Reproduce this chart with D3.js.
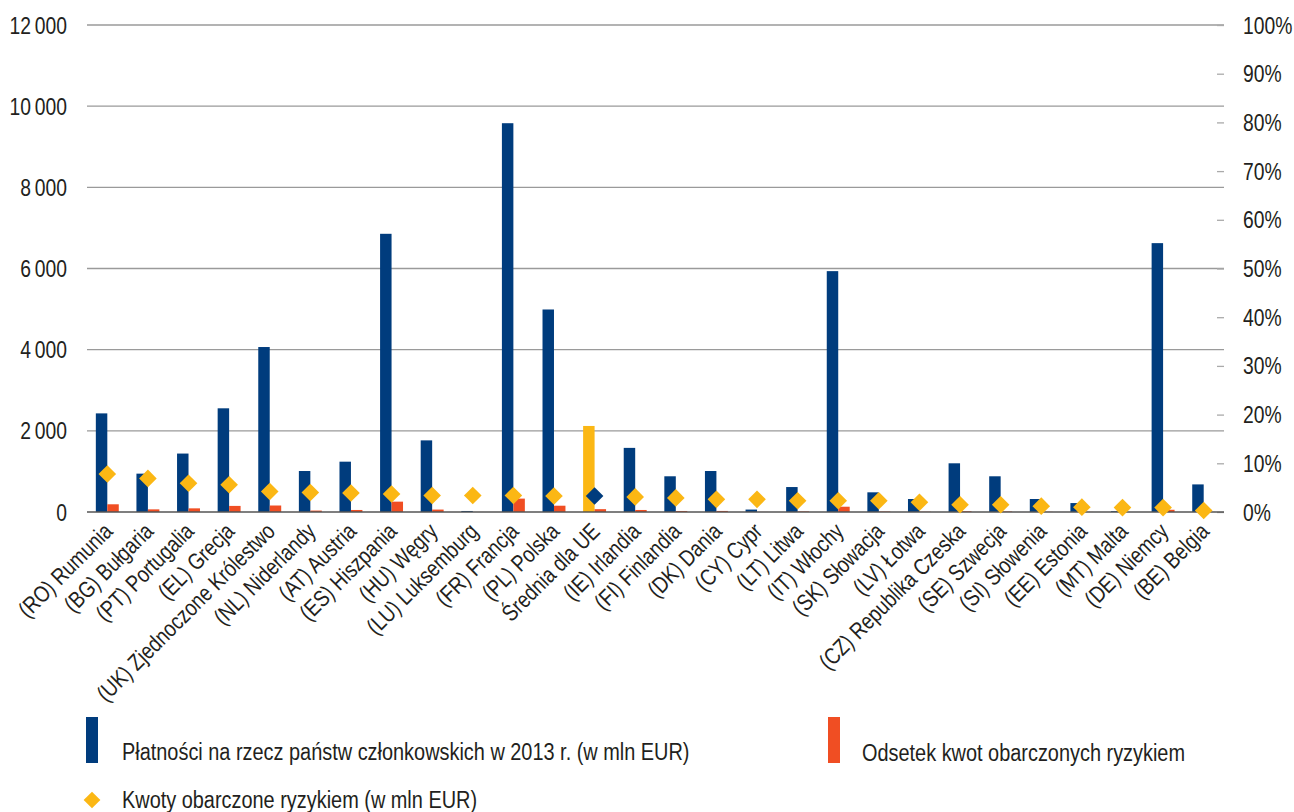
<!DOCTYPE html>
<html>
<head>
<meta charset="utf-8">
<script src="https://cdn.jsdelivr.net/npm/d3@7"></script>
<style>
  body { margin: 0; background: #fff; }
  text { font-family: "Liberation Sans", Arial, sans-serif; fill: #231f20; }
</style>
</head>
<body>
<div id="chart"></div>
<script>
// categories (member states + EU average)
const categories = [
  '(RO) Rumunia', '(BG) Bułgaria', '(PT) Portugalia', '(EL) Grecja',
  '(UK) Zjednoczone Królestwo', '(NL) Niderlandy', '(AT) Austria', '(ES) Hiszpania',
  '(HU) Węgry', '(LU) Luksemburg', '(FR) Francja', '(PL) Polska', 'Średnia dla UE',
  '(IE) Irlandia', '(FI) Finlandia', '(DK) Dania', '(CY) Cypr', '(LT) Litwa',
  '(IT) Włochy', '(SK) Słowacja', '(LV) Łotwa', '(CZ) Republika Czeska',
  '(SE) Szwecja', '(SI) Słowenia', '(EE) Estonia', '(MT) Malta', '(DE) Niemcy', '(BE) Belgia'
];
const avgCategory = 'Średnia dla UE';

// payments 2013 (mln EUR) - left axis
const payments = [2430, 945, 1440, 2555, 4065, 1010, 1240, 6855, 1765, 25, 9580, 4990, 2120,
  1580, 880, 1010, 60, 615, 5935, 485, 320, 1200, 880, 320, 220, 20, 6625, 680];
// amounts at risk (mln EUR) - left axis
const atRisk = [190, 65, 90, 150, 160, 35, 50, 255, 60, 1, 330, 155, 70,
  50, 25, 26, 2, 14, 130, 12, 6, 18, 13, 4, 2, 0.2, 55, 2];
// share at risk (%) - right axis
const shareAtRisk = [7.8, 6.9, 5.9, 5.6, 4.2, 4.0, 3.9, 3.7, 3.4, 3.4, 3.4, 3.3, 3.3,
  3.1, 2.9, 2.6, 2.6, 2.3, 2.3, 2.3, 2.0, 1.5, 1.5, 1.2, 1.0, 0.9, 0.9, 0.3];

const leftTicks = [0, 2000, 4000, 6000, 8000, 10000, 12000];
const rightTicks = [0, 10, 20, 30, 40, 50, 60, 70, 80, 90, 100];

const legendLabels = [
  'Płatności na rzecz państw członkowskich w 2013 r. (w mln EUR)',
  'Odsetek kwot obarczonych ryzykiem',
  'Kwoty obarczone ryzykiem (w mln EUR)'
];

const blue = '#003c7d', red = '#f04e23', yellow = '#fbb714';

const width = 1294, height = 812;
const plot = { left: 87, right: 1224, top: 25, bottom: 512 };
const fontSize = 23;
const narrow = 0.84; // horizontal squeeze to mimic a condensed face

const svg = d3.select('#chart').append('svg')
  .attr('width', width)
  .attr('height', height);

svg.append('rect').attr('width', width).attr('height', height).attr('fill', '#fff');

// squeeze a text horizontally around its own anchor
const squeeze = (sel, k = narrow) => sel.each(function () {
  const t = d3.select(this);
  const tx = +t.attr('x') || 0;
  const ty = +t.attr('y') || 0;
  t.attr('x', 0).attr('y', 0)
    .attr('transform', `translate(${tx},${ty}) scale(${k},1)`);
});

const x = d3.scaleBand()
  .domain(categories)
  .range([plot.left, plot.right]);

const xSub = d3.scaleBand()
  .domain(['pay', 'risk'])
  .range([0, x.bandwidth()])
  .paddingOuter(0.77);

const y = d3.scaleLinear().domain([0, 12000]).range([plot.bottom, plot.top]);
const yPct = d3.scaleLinear().domain([0, 100]).range([plot.bottom, plot.top]);

// gridlines
svg.append('g')
  .selectAll('line')
  .data(leftTicks.filter(d => d > 0))
  .join('line')
    .attr('x1', plot.left).attr('x2', plot.right)
    .attr('y1', d => y(d)).attr('y2', d => y(d))
    .attr('stroke', '#9a9a9a')
    .attr('stroke-width', 1.3)

// left axis labels
const yAxis = d3.axisLeft(y)
  .tickValues(leftTicks)
  .tickSize(0)
  .tickPadding(0)
  .tickFormat(d => d3.format(',')(d).replace(/,/g, '\u2009'));

svg.append('g')
  .attr('transform', `translate(67,0)`)
  .call(yAxis)
  .call(g => g.select('.domain').remove())
  .call(g => g.selectAll('text').attr('font-size', fontSize).attr('dy', '0.35em').call(squeeze));

// right axis
const yAxisR = d3.axisRight(yPct)
  .tickValues(rightTicks)
  .tickSize(7)
  .tickPadding(19)
  .tickFormat(d => d + '%');

svg.append('g')
  .attr('transform', `translate(${plot.right - 7},0)`)
  .call(yAxisR)
  .call(g => g.select('.domain').remove())
  .call(g => g.selectAll('line').attr('stroke', '#aaa').attr('stroke-width', 1.3))
  .call(g => g.selectAll('text').attr('font-size', fontSize).attr('dy', '0.35em').call(squeeze));

// bars
const rows = categories.map((c, i) => ({
  cat: c, pay: payments[i], risk: atRisk[i], pct: shareAtRisk[i]
}));

const groups = svg.append('g')
  .selectAll('g')
  .data(rows)
  .join('g')
    .attr('transform', d => `translate(${x(d.cat)},0)`);

groups.append('rect')
  .attr('x', xSub('pay'))
  .attr('width', xSub.bandwidth())
  .attr('y', d => y(d.pay))
  .attr('height', d => y(0) - y(d.pay))
  .attr('fill', d => d.cat === avgCategory ? yellow : blue);

groups.append('rect')
  .attr('x', xSub('risk'))
  .attr('width', xSub.bandwidth())
  .attr('y', d => y(d.risk))
  .attr('height', d => y(0) - y(d.risk))
  .attr('fill', red);

// baseline
svg.append('line')
  .attr('x1', plot.left).attr('x2', plot.right)
  .attr('y1', y(0)).attr('y2', y(0))
  .attr('stroke', '#555')
  .attr('stroke-width', 1.5);

// diamonds
const diamond = d3.symbol().type(d3.symbolSquare).size(155);

svg.append('g')
  .selectAll('path')
  .data(rows)
  .join('path')
    .attr('d', diamond)
    .attr('transform', d => `translate(${x(d.cat) + x.bandwidth() / 2},${yPct(d.pct)}) rotate(45)`)
    .attr('fill', d => d.cat === avgCategory ? blue : yellow);

// category labels
svg.append('g')
  .selectAll('text')
  .data(categories)
  .join('text')
    .attr('transform', d => `translate(${x(d) + x.bandwidth() / 2 + 1},${plot.bottom + 15}) rotate(-45) scale(${narrow * 0.98},1)`)
    .attr('text-anchor', 'end')
    .attr('dy', '0.35em')
    .attr('font-size', fontSize)
    .text(d => d);

// legend
const legend = svg.append('g');
legend.append('rect').attr('x', 86).attr('y', 717).attr('width', 12).attr('height', 46).attr('fill', blue);
legend.append('text').attr('x', 122).attr('y', 752).attr('dy', '0.35em').attr('font-size', fontSize).text(legendLabels[0]);
legend.append('rect').attr('x', 828).attr('y', 717).attr('width', 12).attr('height', 46).attr('fill', red);
legend.append('text').attr('x', 862).attr('y', 753).attr('dy', '0.35em').attr('font-size', fontSize).text(legendLabels[1]);
legend.append('path')
  .attr('d', d3.symbol().type(d3.symbolSquare).size(140))
  .attr('transform', 'translate(92,800) rotate(45)')
  .attr('fill', yellow);
legend.append('text').attr('x', 122).attr('y', 800).attr('dy', '0.35em').attr('font-size', fontSize).text(legendLabels[2]);
legend.selectAll('text').call(squeeze, 0.866);
</script>
</body>
</html>
